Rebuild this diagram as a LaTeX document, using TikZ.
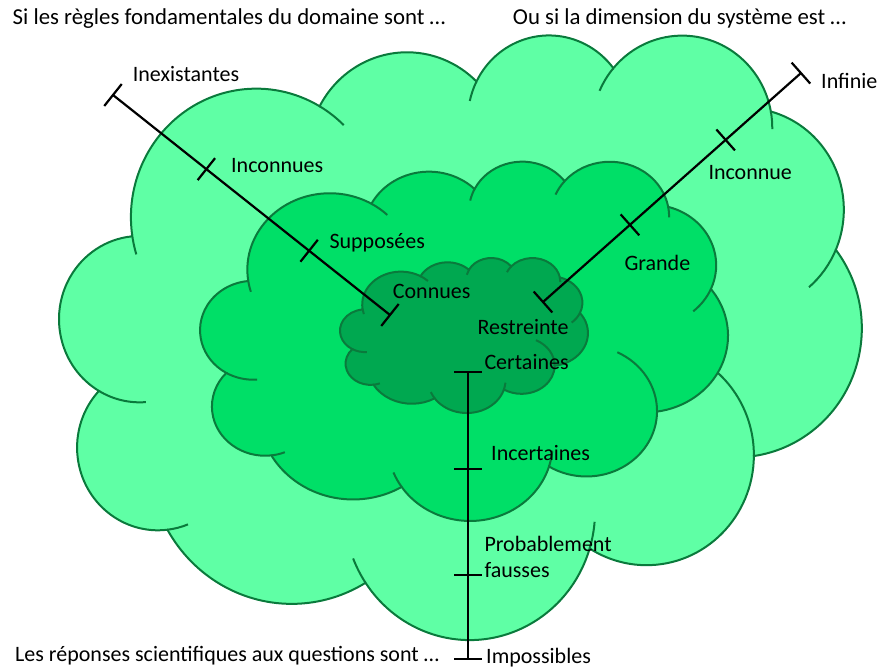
\documentclass[tikz,border=0pt]{standalone}
\usepackage{fontspec}
\setmainfont{Carlito}
\usetikzlibrary{calc,decorations.markings}

\definecolor{cloudout}{HTML}{5FFFA5}
\definecolor{cloudmid}{HTML}{00DF67}
\definecolor{cloudin}{HTML}{00A850}
\definecolor{cloudedge}{HTML}{0A7A3C}

\newcommand\tickbar{\draw[line width=2.2pt] (0,-14pt) -- (0,14pt);}

% one cloud in a 43.2 x 43.2 box, puffs as elliptic arcs
\newcommand\cloudblob[1]{%
  \filldraw[cloud, fill=#1] (3.900,14.370) coordinate (j0)
    arc[x radius=6.753, y radius=9.190, start angle=172.25, end angle=300.36] coordinate (j1)
    arc[x radius=5.333, y radius=7.267, start angle=-152.03, end angle=-45.45] coordinate (j2)
    arc[x radius=4.365, y radius=5.945, start angle=-153.49, end angle=-37.32] coordinate (j3)
    arc[x radius=4.857, y radius=6.595, start angle=-139.70, end angle=-10.21] coordinate (j4)
    arc[x radius=5.333, y radius=7.273, start angle=-74.77, end angle=23.21] coordinate (j5)
    arc[x radius=6.775, y radius=9.220, start angle=-37.51, end angle=81.86] coordinate (j6)
    arc[x radius=5.785, y radius=7.867, start angle=0.46, end angle=121.98] coordinate (j7)
    arc[x radius=6.752, y radius=9.215, start angle=16.84, end angle=146.23] coordinate (j8)
    arc[x radius=7.720, y radius=10.543, start angle=58.99, end angle=150.18] coordinate (j9)
    arc[x radius=4.360, y radius=5.918, start angle=83.31, end angle=223.10] coordinate (j10)
    arc[x radius=4.345, y radius=5.945, start angle=120.35, end angle=264.11] -- cycle;
  % folds
  \draw[cloud] (j0) arc[x radius=6.753, y radius=9.190, start angle=172.25, end angle=163.19];
  \draw[cloud] (j1) arc[x radius=6.753, y radius=9.190, start angle=300.36, end angle=314.26];
  \draw[cloud] (j2) arc[x radius=4.365, y radius=5.945, start angle=-153.49, end angle=-167.73];
  \draw[cloud] (j3) arc[x radius=4.857, y radius=6.595, start angle=-139.70, end angle=-156.30];
  \draw[cloud] (j4) arc[x radius=4.857, y radius=6.595, start angle=-10.21, end angle=0.82];
  \draw[cloud] (j5) arc[x radius=5.333, y radius=7.273, start angle=23.21, end angle=49.63];
  \draw[cloud] (j6) arc[x radius=5.785, y radius=7.867, start angle=0.46, end angle=-64.03];
  \draw[cloud] (j7) arc[x radius=6.752, y radius=9.215, start angle=16.84, end angle=4.74];
  \draw[cloud] (j8) arc[x radius=6.752, y radius=9.215, start angle=146.23, end angle=158.47];
  \draw[cloud] (j9) arc[x radius=4.360, y radius=5.918, start angle=83.31, end angle=68.23];
  \draw[cloud] (j10) arc[x radius=4.345, y radius=5.945, start angle=120.35, end angle=85.55];
}

\begin{document}
\begin{tikzpicture}[
  x=1pt, y=-1pt,
  cloud/.style={draw=cloudedge, line width=2pt},
  axis/.style={line width=2.2pt, postaction={decorate, decoration={markings,
    mark=at position 0 with {\tickbar},
    mark=at position .337 with {\tickbar},
    mark=at position .708 with {\tickbar},
    mark=at position .9999 with {\tickbar}}}},
  lbl/.style={anchor=base west, inner sep=0pt, font=\fontsize{22}{26}\selectfont},
  titre/.style={lbl, font=\fontsize{22.8}{27}\selectfont}
]
\useasboundingbox (0,0) rectangle (880,668);

\begin{scope}[shift={(59.7,33.5)}, x=18.56pt, y=-13.99pt]
  \cloudblob{cloudout}
\end{scope}
\begin{scope}[shift={(200.5,160.5)}, x=12.206pt, y=-8.314pt]
  \cloudblob{cloudmid}
\end{scope}
\begin{scope}[shift={(340.2,257.5)}, x=5.733pt, y=-3.587pt]
  \cloudblob{cloudin}
\end{scope}

% axes
\coordinate (regA) at (113,95);
\coordinate (regB) at (390,315);
\coordinate (dimA) at (543,302);
\coordinate (dimB) at (801,73);
\coordinate (repA) at (468,372);
\coordinate (repB) at (468,659);
\draw[axis] (regA) -- (regB);
\draw[axis] (dimA) -- (dimB);
\draw[axis] (repA) -- (repB);

% labels
\node[titre] (titreReg) at (12.5,25) {Si les règles fondamentales du domaine sont …};
\node[titre] (titreDim) at (512.7,25) {Ou si la dimension du système est …};
\node[lbl] (titreRep) at (15,661) {Les réponses scientifiques aux questions sont …};

\node[lbl] (inexist) at (132.7,81.5) {Inexistantes};
\node[lbl] (inconnues) at (231,172.5) {Inconnues};
\node[lbl] (supposees) at (329.3,249) {Supposées};
\node[lbl] (connues) at (392.7,298) {Connues};

\node[lbl] (infinie) at (821,88.3) {Infinie};
\node[lbl] (inconnue) at (708.3,179.3) {Inconnue};
\node[lbl] (grande) at (624.3,270) {Grande};
\node[lbl] (restreinte) at (477.3,334) {Restreinte};

\node[lbl] (certaines) at (484.3,369) {Certaines};
\node[lbl] (incertaines) at (491,460.7) {Incertaines};
\node[lbl] (probable) at (484.3,551.7) {Probablement};
\node[lbl] (fausses) at (484.3,577.7) {fausses};
\node[lbl] (impossibles) at (486,663) {Impossibles};
\end{tikzpicture}
\end{document}
